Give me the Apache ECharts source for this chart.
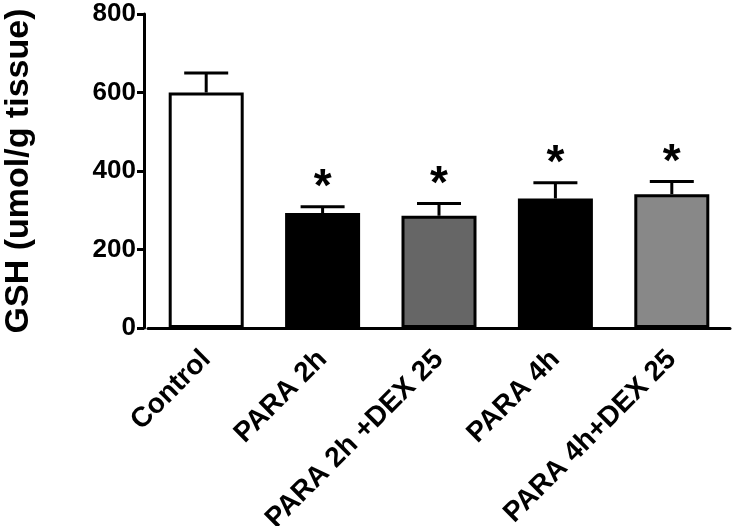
<!DOCTYPE html>
<html>
<head>
<meta charset="utf-8">
<script src="https://cdn.jsdelivr.net/npm/echarts@6/dist/echarts.min.js"></script>
<style>
html,body{margin:0;padding:0;background:#fff;}
#c{width:735px;height:526px;}
</style>
</head>
<body>
<div id="c"></div>
<script>
var categories = ['Control', 'PARA 2h', 'PARA 2h +DEX 25', 'PARA 4h', 'PARA 4h+DEX 25'];
var means = [600, 293, 286, 330, 341];
var errors = [50, 16, 31, 40, 32];
var significant = [false, true, true, true, true];
var barColors = ['#ffffff', '#000000', '#666666', '#000000', '#888888'];
var yTicks = [0, 200, 400, 600, 800];

var FONT = '"Liberation Sans", Arial, sans-serif';
var chart = echarts.init(document.getElementById('c'));

var errData = means.map(function (m, i) { return [i, m, errors[i], significant[i] ? 1 : 0]; });

chart.setOption({
  animation: false,
  grid: { left: 148, right: 5, top: 14, bottom: 198, containLabel: false, outerBoundsMode: 'none' },
  xAxis: {
    type: 'category',
    data: categories,
    axisLine: { lineStyle: { color: '#000', width: 3 } },
    axisTick: { alignWithLabel: true, length: 7, lineStyle: { color: '#000', width: 3 } },
    axisLabel: {
      rotate: 45, color: '#000', fontFamily: FONT, fontWeight: 'bold', fontSize: 28, margin: 27,
      interval: 0
    }
  },
  yAxis: {
    type: 'value',
    min: yTicks[0], max: yTicks[yTicks.length - 1], interval: 200,
    offset: 4,
    name: 'GSH (umol/g tissue)',
    nameLocation: 'middle',
    nameGap: 108,
    nameTextStyle: { color: '#000', fontFamily: FONT, fontWeight: 'bold', fontSize: 34 },
    axisLine: { show: true, lineStyle: { color: '#000', width: 3 } },
    axisTick: { show: true, length: 7, lineStyle: { color: '#000', width: 3 } },
    axisLabel: { color: '#000', fontFamily: FONT, fontWeight: 'bold', fontSize: 26, margin: 8 },
    splitLine: { show: false }
  },
  series: [
    {
      type: 'bar',
      barWidth: 75,
      data: means.map(function (m, i) {
        return { value: m, itemStyle: { color: barColors[i] } };
      }),
      itemStyle: { borderColor: '#000', borderWidth: 3 }
    },
    {
      type: 'custom',
      data: errData,
      z: 5,
      renderItem: function (params, api) {
        var x = api.value(0), m = api.value(1), e = api.value(2), s = api.value(3);
        var top = api.coord([x, m]);
        var cap = api.coord([x, m + e]);
        var hw = 22;
        var children = [
          { type: 'line', shape: { x1: top[0], y1: top[1], x2: cap[0], y2: cap[1] }, style: { stroke: '#000', lineWidth: 3 } },
          { type: 'line', shape: { x1: cap[0] - hw, y1: cap[1], x2: cap[0] + hw, y2: cap[1] }, style: { stroke: '#000', lineWidth: 3 } }
        ];
        if (s) {
          children.push({
            type: 'text',
            style: {
              x: cap[0], y: cap[1] + 5, text: '*', fill: '#000',
              font: 'bold 46px ' + FONT, textAlign: 'center', textVerticalAlign: 'bottom'
            }
          });
        }
        return { type: 'group', children: children };
      }
    }
  ]
});
</script>
</body>
</html>
